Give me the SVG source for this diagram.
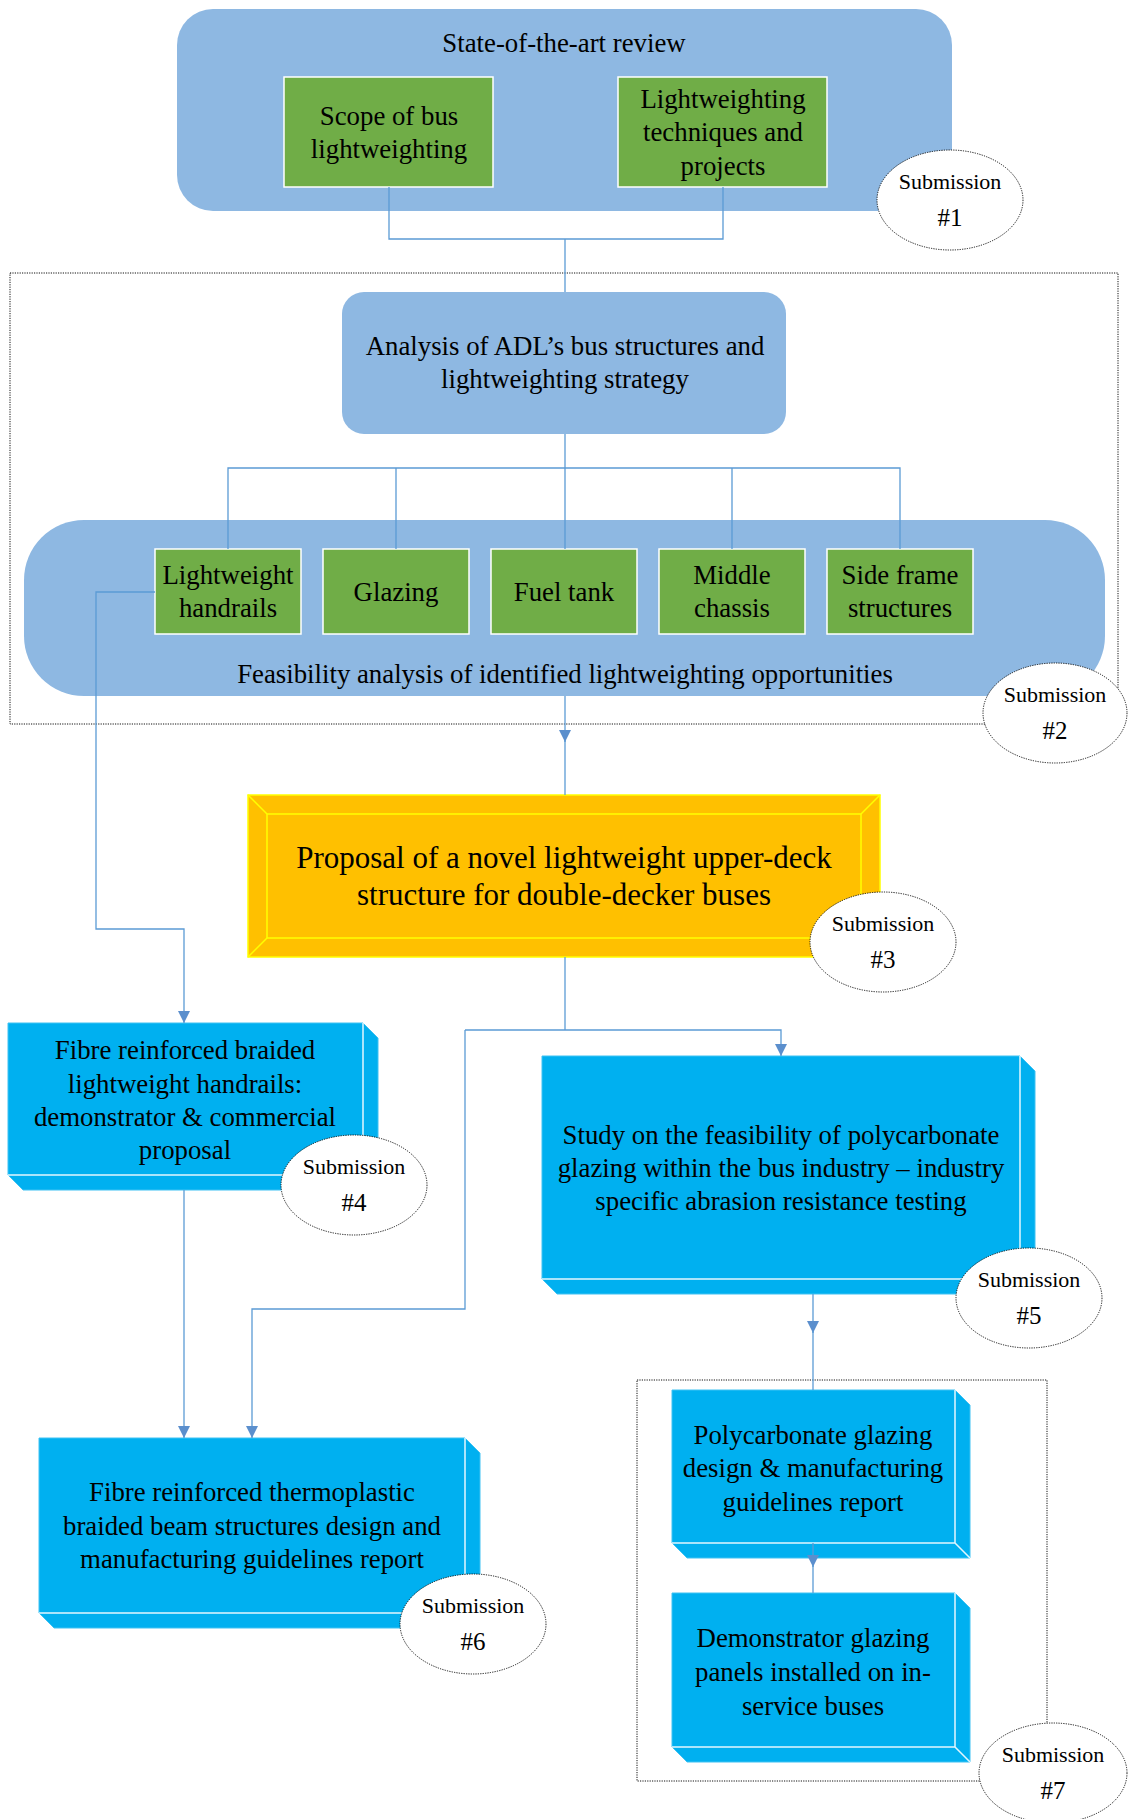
<svg xmlns="http://www.w3.org/2000/svg" width="1129" height="1819" viewBox="0 0 1129 1819">
<defs>
<style>
.t{font-family:"Liberation Serif","Times New Roman",serif;font-size:26.8px;fill:#000;text-anchor:middle}
.ty{font-size:31px}
.ts{font-family:"Liberation Serif","Times New Roman",serif;font-size:22px;fill:#000;text-anchor:middle}
.tn{font-size:25px}
.lb{fill:#8EB8E2}
.gr{fill:#70AD47;stroke:#FFFFFF;stroke-width:1.5}
.bx{fill:#00B0F0;stroke:#3FC2F3;stroke-width:1}
.bxl{fill:none;stroke:#E2F6FE;stroke-width:1.5}
.dot{fill:none;stroke:#111;stroke-width:1;stroke-dasharray:1.2 1.2}
.sub{fill:#FFFFFF;stroke:#111;stroke-width:1;stroke-dasharray:1.2 1.2}
.c{fill:none;stroke:#5B9BD5;stroke-width:1.3}
.ca{fill:none;stroke:#5B9BD5;stroke-width:1.3;marker-end:url(#ah)}
</style>
<marker id="ah" viewBox="0 0 10 10" refX="10" refY="5" markerWidth="12" markerHeight="13" markerUnits="userSpaceOnUse" orient="auto">
<path d="M0,0 L10,5 L0,10 z" fill="#5B8FCD"/>
</marker>
</defs>
<rect width="1129" height="1819" fill="#FFFFFF"/>

<!-- containers -->
<rect id="group2-frame" class="dot" x="10" y="273" width="1108" height="451"/>
<rect id="group7-frame" class="dot" x="637" y="1380" width="410" height="401"/>

<g id="state-of-the-art">
<rect class="lb" x="177" y="9" width="775" height="202" rx="36" ry="36"/>
<text class="t" x="564" y="52">State-of-the-art review</text>
</g>
<g id="scope">
<rect class="gr" x="284" y="77" width="209" height="110"/>
<text class="t" x="389" y="125">Scope of bus</text>
<text class="t" x="389" y="158">lightweighting</text>
</g>
<g id="techniques">
<rect class="gr" x="618" y="77" width="209" height="110"/>
<text class="t" x="723" y="108">Lightweighting</text>
<text class="t" x="723" y="141">techniques and</text>
<text class="t" x="723" y="175">projects</text>
</g>

<g id="analysis">
<rect class="lb" x="342" y="292" width="444" height="142" rx="22" ry="22"/>
<text class="t" x="565" y="355">Analysis of ADL’s bus structures and</text>
<text class="t" x="565" y="388">lightweighting strategy</text>
</g>

<g id="feasibility">
<rect class="lb" x="24" y="520" width="1081" height="176" rx="60" ry="60"/>
<text class="t" x="565" y="683">Feasibility analysis of identified lightweighting opportunities</text>
</g>
<g id="handrails">
<rect class="gr" x="155" y="549" width="146" height="85"/>
<text class="t" x="228" y="584">Lightweight</text>
<text class="t" x="228" y="617">handrails</text>
</g>
<g id="glazing">
<rect class="gr" x="323" y="549" width="146" height="85"/>
<text class="t" x="396" y="601">Glazing</text>
</g>
<g id="fueltank">
<rect class="gr" x="491" y="549" width="146" height="85"/>
<text class="t" x="564" y="601">Fuel tank</text>
</g>
<g id="chassis">
<rect class="gr" x="659" y="549" width="146" height="85"/>
<text class="t" x="732" y="584">Middle</text>
<text class="t" x="732" y="617">chassis</text>
</g>
<g id="sideframe">
<rect class="gr" x="827" y="549" width="146" height="85"/>
<text class="t" x="900" y="584">Side frame</text>
<text class="t" x="900" y="617">structures</text>
</g>

<g id="proposal">
<rect x="248" y="795" width="632" height="162" fill="#FFC000" stroke="#FFFF00" stroke-width="1.5"/>
<rect x="267" y="814" width="594" height="124" fill="none" stroke="#FFFF00" stroke-width="1.5"/>
<path d="M248,795 L267,814 M880,795 L861,814 M248,957 L267,938 M880,957 L861,938" stroke="#FFFF00" stroke-width="1.5" fill="none"/>
<text class="t ty" x="564" y="868">Proposal of a novel lightweight upper-deck</text>
<text class="t ty" x="564" y="905">structure for double-decker buses</text>
</g>

<g id="handrails-demo">
<path class="bx" d="M8,1023 L363,1023 L378,1038 L378,1190 L23,1190 L8,1175 Z"/>
<path class="bxl" d="M363,1023 L363,1175 L8,1175 M363,1175 L378,1190"/>
<text class="t" x="185" y="1059">Fibre reinforced braided</text>
<text class="t" x="185" y="1093">lightweight handrails:</text>
<text class="t" x="185" y="1126">demonstrator &amp; commercial</text>
<text class="t" x="185" y="1159">proposal</text>
</g>

<g id="polycarbonate-study">
<path class="bx" d="M542,1056 L1020,1056 L1035,1071 L1035,1294 L557,1294 L542,1279 Z"/>
<path class="bxl" d="M1020,1056 L1020,1279 L542,1279 M1020,1279 L1035,1294"/>
<text class="t" x="781" y="1144">Study on the feasibility of polycarbonate</text>
<text class="t" x="781" y="1177">glazing within the bus industry – industry</text>
<text class="t" x="781" y="1210">specific abrasion resistance testing</text>
</g>

<g id="braided-beam">
<path class="bx" d="M39,1438 L465,1438 L480,1453 L480,1628 L54,1628 L39,1613 Z"/>
<path class="bxl" d="M465,1438 L465,1613 L39,1613 M465,1613 L480,1628"/>
<text class="t" x="252" y="1501">Fibre reinforced thermoplastic</text>
<text class="t" x="252" y="1535">braided beam structures design and</text>
<text class="t" x="252" y="1568">manufacturing guidelines report</text>
</g>

<g id="glazing-guidelines">
<path class="bx" d="M672,1390 L955,1390 L970,1405 L970,1558 L687,1558 L672,1543 Z"/>
<path class="bxl" d="M955,1390 L955,1543 L672,1543 M955,1543 L970,1558"/>
<text class="t" x="813" y="1444">Polycarbonate glazing</text>
<text class="t" x="813" y="1477">design &amp; manufacturing</text>
<text class="t" x="813" y="1511">guidelines report</text>
</g>

<g id="glazing-demo">
<path class="bx" d="M672,1593 L955,1593 L970,1608 L970,1762 L687,1762 L672,1747 Z"/>
<path class="bxl" d="M955,1593 L955,1747 L672,1747 M955,1747 L970,1762"/>
<text class="t" x="813" y="1647">Demonstrator glazing</text>
<text class="t" x="813" y="1681">panels installed on in-</text>
<text class="t" x="813" y="1715">service buses</text>
</g>

<!-- connectors -->
<g id="connectors">
<path class="c" d="M389,187 L389,239 L723,239 L723,187"/>
<path class="c" d="M565,239 L565,292"/>
<path class="c" d="M565,434 L565,468"/>
<path class="c" d="M228,549 L228,468 L900,468 L900,549"/>
<path class="c" d="M396,468 L396,549 M565,468 L565,549 M732,468 L732,549"/>
<path class="ca" d="M565,696 L565,742"/>
<path class="c" d="M565,740 L565,795"/>
<path class="ca" d="M155,592 L96,592 L96,929 L184,929 L184,1023"/>
<path class="c" d="M565,957 L565,1030"/>
<path class="ca" d="M465,1030 L781,1030 L781,1056"/>
<path class="ca" d="M465,1030 L465,1309 L252,1309 L252,1438"/>
<path class="ca" d="M184,1190 L184,1438"/>
<path class="ca" d="M813,1294 L813,1333"/>
<path class="c" d="M813,1331 L813,1390"/>
<path class="ca" d="M813,1543 L813,1567"/>
<path class="c" d="M813,1565 L813,1593"/>
</g>

<!-- submission labels -->
<g id="submission1">
<ellipse class="sub" cx="950" cy="200" rx="73" ry="50"/>
<text class="ts" x="950" y="189">Submission</text>
<text class="ts tn" x="950" y="226">#1</text>
</g>
<g id="submission2">
<ellipse class="sub" cx="1055" cy="713" rx="72" ry="50"/>
<text class="ts" x="1055" y="702">Submission</text>
<text class="ts tn" x="1055" y="739">#2</text>
</g>
<g id="submission3">
<ellipse class="sub" cx="883" cy="942" rx="73" ry="50"/>
<text class="ts" x="883" y="931">Submission</text>
<text class="ts tn" x="883" y="968">#3</text>
</g>
<g id="submission4">
<ellipse class="sub" cx="354" cy="1185" rx="73" ry="50"/>
<text class="ts" x="354" y="1174">Submission</text>
<text class="ts tn" x="354" y="1211">#4</text>
</g>
<g id="submission5">
<ellipse class="sub" cx="1029" cy="1298" rx="73" ry="50"/>
<text class="ts" x="1029" y="1287">Submission</text>
<text class="ts tn" x="1029" y="1324">#5</text>
</g>
<g id="submission6">
<ellipse class="sub" cx="473" cy="1624" rx="73" ry="50"/>
<text class="ts" x="473" y="1613">Submission</text>
<text class="ts tn" x="473" y="1650">#6</text>
</g>
<g id="submission7">
<ellipse class="sub" cx="1053" cy="1773" rx="74" ry="50"/>
<text class="ts" x="1053" y="1762">Submission</text>
<text class="ts tn" x="1053" y="1799">#7</text>
</g>
</svg>
